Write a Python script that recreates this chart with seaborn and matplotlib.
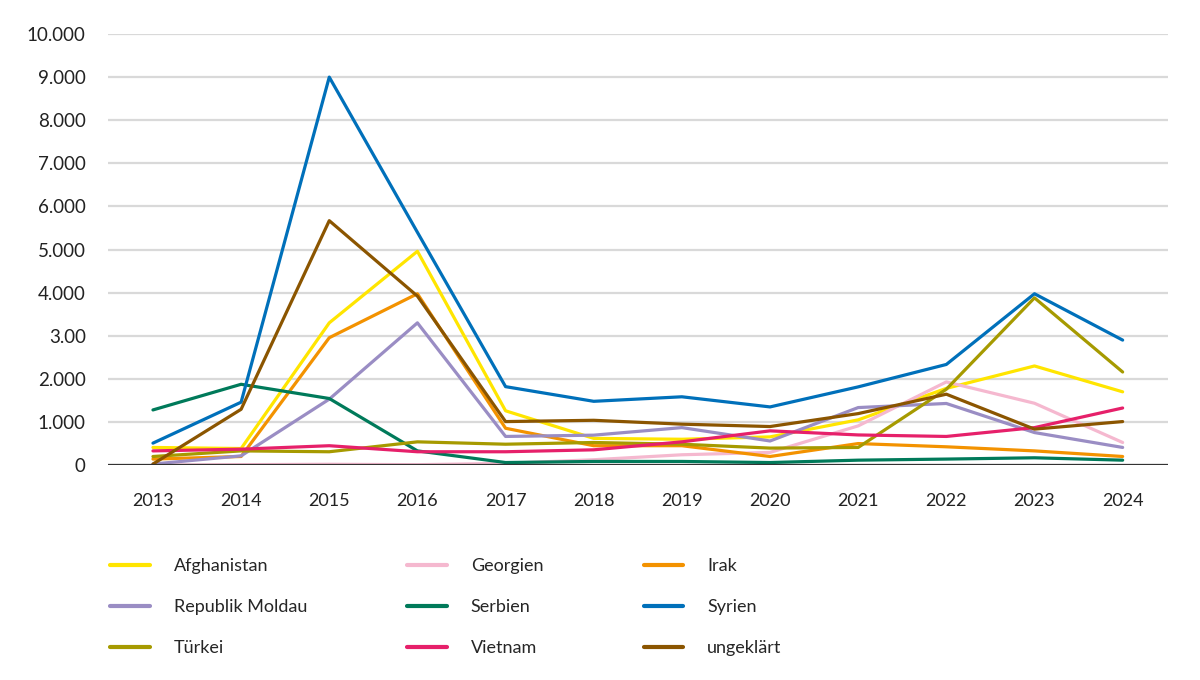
import matplotlib

matplotlib.use("Agg")
import matplotlib.pyplot as plt
import pandas as pd
import seaborn as sns

years = list(range(2013, 2025))

afghanistan = [410, 385, 3300, 4960, 1260, 620, 600, 655, 1050, 1780, 2300, 1700]
georgien = [0, 10, 20, 10, 40, 125, 240, 295, 910, 1930, 1435, 525]
irak = [140, 200, 2955, 3975, 855, 450, 450, 200, 500, 425, 330, 200]
moldau = [25, 215, 1530, 3300, 665, 695, 870, 560, 1335, 1430, 755, 410]
serbien = [1280, 1875, 1545, 330, 60, 85, 85, 60, 115, 140, 170, 115]
syrien = [510, 1460, 9000, 5400, 1820, 1480, 1585, 1350, 1815, 2335, 3975, 2900]
tuerkei = [200, 330, 310, 540, 485, 525, 485, 395, 410, 1760, 3880, 2160]
vietnam = [330, 370, 450, 310, 310, 355, 540, 795, 700, 665, 870, 1325]
ungeklaert = [25, 1295, 5670, 3920, 1010, 1040, 950, 895, 1195, 1645, 835, 1010]

series_names = ["Afghanistan", "Georgien", "Irak", "Republik Moldau", "Serbien",
                "Syrien", "Türkei", "Vietnam", "ungeklärt"]
series_values = [afghanistan, georgien, irak, moldau, serbien,
                 syrien, tuerkei, vietnam, ungeklaert]
colors = ["#FFE500", "#F5B8CF", "#F39200", "#9A8DC4", "#007A5A",
          "#0070BA", "#A69A00", "#E6206A", "#8B5500"]

y_ticks = [0, 1000, 2000, 3000, 4000, 5000, 6000, 7000, 8000, 9000, 10000]
y_labels = ["0", "1.000", "2.000", "3.00", "4.000", "5.000", "6.000",
            "7.000", "8.000", "9.000", "10.000"]

rows = []
for name, vals in zip(series_names, series_values):
    for yr, v in zip(years, vals):
        rows.append({"Jahr": yr, "Wert": v, "Land": name})
df = pd.DataFrame(rows)

sns.set_theme(style="white")
plt.rcParams["font.family"] = ["Lato", "DejaVu Sans"]

fig = plt.figure(figsize=(12, 6.8), dpi=100)
ax = fig.add_axes([0.09, 0.316, 0.883, 0.634])

ax.set_yticks(y_ticks)
ax.grid(axis="y", color="#d9d9d9", linewidth=1.6)
ax.set_axisbelow(True)

sns.lineplot(data=df, x="Jahr", y="Wert", hue="Land", hue_order=series_names,
             palette=dict(zip(series_names, colors)), linewidth=2.3, ax=ax,
             legend=True)

ax.axhline(0, color="#333333", linewidth=1.6, zorder=5)
ax.set_xlim(2012.49, 2024.51)
ax.set_ylim(0, 10000)
ax.set_xticks(years)
ax.set_xticklabels([str(y) for y in years])
ax.set_yticklabels(y_labels)
ax.tick_params(axis="x", length=0, pad=20, labelsize=13, labelcolor="#222222")
ax.tick_params(axis="y", length=0, pad=16, labelsize=13.5, labelcolor="#222222")
ax.set_xlabel("")
ax.set_ylabel("")
for s in ax.spines.values():
    s.set_visible(False)

handles, labels = ax.get_legend_handles_labels()
ax.get_legend().remove()
# reorder so that rows read across like the original
order = [0, 3, 6, 1, 4, 7, 2, 5, 8]
leg = fig.legend([handles[i] for i in order], [labels[i] for i in order],
                 ncol=3, loc="upper left", bbox_to_anchor=(0.078, 0.203),
                 frameon=False, fontsize=13, handlelength=2.2,
                 handletextpad=1.33, columnspacing=5.55, labelspacing=1.38)
for line in leg.get_lines():
    line.set_linewidth(3)

fig.savefig("out.png", dpi=100)
